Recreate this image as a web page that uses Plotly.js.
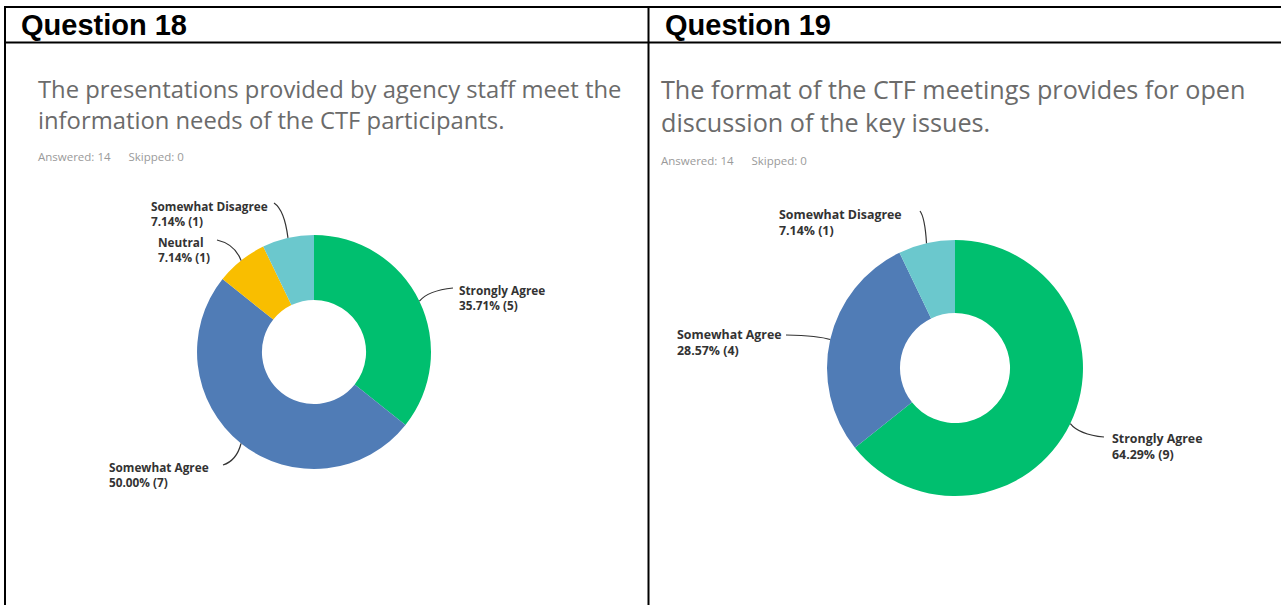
<!DOCTYPE html>
<html>
<head>
<meta charset="utf-8">
<script src="https://cdn.plot.ly/plotly-3.0.1.min.js"></script>
<style>
html,body{margin:0;padding:0;background:#fff;}
#chart{width:1281px;height:605px;}
</style>
</head>
<body>
<div id="chart"></div>
<script>
// ---- data ----
const headers = ['Question 18', 'Question 19'];
const titles = [
  'The presentations provided by agency staff meet the<br>information needs of the CTF participants.',
  'The format of the CTF meetings provides for open<br>discussion of the key issues.'
];
const answered = [14, 14];
const skipped = [0, 0];
const q18Labels = ['Strongly Agree', 'Somewhat Agree', 'Neutral', 'Somewhat Disagree'];
const q18Values = [5, 7, 1, 1];
const q19Labels = ['Strongly Agree', 'Somewhat Agree', 'Somewhat Disagree'];
const q19Values = [9, 4, 1];

// ---- styles / layout ----
const W = 1281, H = 605;
const colorMap = {
  'Strongly Agree': '#00bf6f',
  'Somewhat Agree': '#507cb6',
  'Neutral': '#f9be00',
  'Somewhat Disagree': '#6bc8cd'
};
// pie boxes in pixels: center & radius
const pies = [
  {cx: 314, cy: 352, r: 117, hole: 0.445},
  {cx: 955, cy: 368, r: 128, hole: 0.43}
];
// per-panel text sizes
const panelStyle = [
  {title: 23.8, answered: 11.5, label: 11.8},
  {title: 25.2, answered: 11.5, label: 12.4}
];
// label text top-left and leader line start (pixels)
const labelPos = [
  {
    'Strongly Agree': {tx: 457, ty: 280, lx: 453, ly: 288},
    'Somewhat Agree': {tx: 107, ty: 457, lx: 223, ly: 465},
    'Neutral': {tx: 156, ty: 232, lx: 217, ly: 240},
    'Somewhat Disagree': {tx: 149, ty: 196, lx: 274, ly: 203}
  },
  {
    'Strongly Agree': {tx: 1110, ty: 428, lx: 1104, ly: 437},
    'Somewhat Agree': {tx: 675, ty: 324, lx: 786, ly: 335},
    'Somewhat Disagree': {tx: 777, ty: 204, lx: 920, ly: 211}
  }
];
const titlePos = [{x: 36, y: 71}, {x: 659, y: 70}];
const answeredPos = [{x: 36, y: 157}, {x: 659, y: 160}];
const headerPos = [{x: 19, y: 25}, {x: 663, y: 25}];

const px = x => x / W;
const py = y => 1 - y / H;

const datasets = [
  {labels: q18Labels, values: q18Values},
  {labels: q19Labels, values: q19Values}
];

const traces = [];
const annotations = [];
const shapes = [];

datasets.forEach((d, i) => {
  const p = pies[i];
  const st = panelStyle[i];
  traces.push({
    type: 'pie',
    labels: d.labels,
    values: d.values,
    sort: false,
    direction: 'clockwise',
    rotation: 0,
    hole: p.hole,
    textinfo: 'none',
    hoverinfo: 'label+percent',
    marker: {colors: d.labels.map(l => colorMap[l]), line: {width: 0}},
    domain: {x: [px(p.cx - p.r), px(p.cx + p.r)], y: [py(p.cy + p.r), py(p.cy - p.r)]},
    showlegend: false
  });
  const total = d.values.reduce((a, b) => a + b, 0);
  let cum = 0;
  d.values.forEach((v, k) => {
    const mid = (cum + v / 2) / total;
    cum += v;
    const ang = mid * 2 * Math.PI;
    const ex = p.cx + p.r * Math.sin(ang);
    const ey = p.cy - p.r * Math.cos(ang);
    const lp = labelPos[i][d.labels[k]];
    const pct = (v / total * 100).toFixed(2) + '% (' + v + ')';
    annotations.push({
      xref: 'paper', yref: 'paper', x: px(lp.tx), y: py(lp.ty),
      xanchor: 'left', yanchor: 'top', align: 'left', showarrow: false,
      text: '<b>' + d.labels[k] + '</b><br><b>' + pct + '</b>',
      font: {family: 'Open Sans, sans-serif', size: st.label, color: '#333333'}
    });
    const cxp = lp.lx + 0.75 * (ex - lp.lx);
    const cyp = lp.ly + 0.2 * (ey - lp.ly);
    shapes.push({
      type: 'path', xref: 'paper', yref: 'paper',
      path: 'M ' + px(lp.lx) + ',' + py(lp.ly) + ' Q ' + px(cxp) + ',' + py(cyp) + ' ' + px(ex) + ',' + py(ey),
      line: {color: '#333333', width: 1.2}
    });
  });

  annotations.push({
    xref: 'paper', yref: 'paper', x: px(headerPos[i].x), y: py(headerPos[i].y),
    xanchor: 'left', yanchor: 'middle', showarrow: false,
    text: '<b>' + headers[i] + '</b>',
    font: {family: 'Liberation Sans, Arial, sans-serif', size: 29, color: '#000'}
  });
  annotations.push({
    xref: 'paper', yref: 'paper', x: px(titlePos[i].x), y: py(titlePos[i].y),
    xanchor: 'left', yanchor: 'top', align: 'left', showarrow: false,
    text: titles[i],
    font: {family: 'Open Sans, sans-serif', size: st.title, color: '#6b6b6b'}
  });
  annotations.push({
    xref: 'paper', yref: 'paper', x: px(answeredPos[i].x), y: py(answeredPos[i].y),
    xanchor: 'left', yanchor: 'middle', showarrow: false,
    text: 'Answered: ' + answered[i] + '&nbsp;&nbsp;&nbsp;&nbsp;&nbsp;&nbsp;Skipped: ' + skipped[i],
    font: {family: 'Open Sans, sans-serif', size: st.answered, color: '#9a9a9a'}
  });
});

// table borders
const border = {color: '#000', width: 2};
shapes.push({type: 'line', xref: 'paper', yref: 'paper', x0: px(4), x1: 1, y0: py(7), y1: py(7), line: border});
shapes.push({type: 'line', xref: 'paper', yref: 'paper', x0: px(4), x1: 1, y0: py(42.5), y1: py(42.5), line: border});
shapes.push({type: 'line', xref: 'paper', yref: 'paper', x0: px(5), x1: px(5), y0: py(6), y1: 0, line: border});
shapes.push({type: 'line', xref: 'paper', yref: 'paper', x0: px(648.5), x1: px(648.5), y0: py(6), y1: 0, line: border});

Plotly.newPlot('chart', traces, {
  width: W, height: H,
  margin: {l: 0, r: 0, t: 0, b: 0},
  paper_bgcolor: '#ffffff',
  plot_bgcolor: '#ffffff',
  showlegend: false,
  annotations: annotations,
  shapes: shapes
}, {displayModeBar: false, staticPlot: false});
</script>
</body>
</html>
